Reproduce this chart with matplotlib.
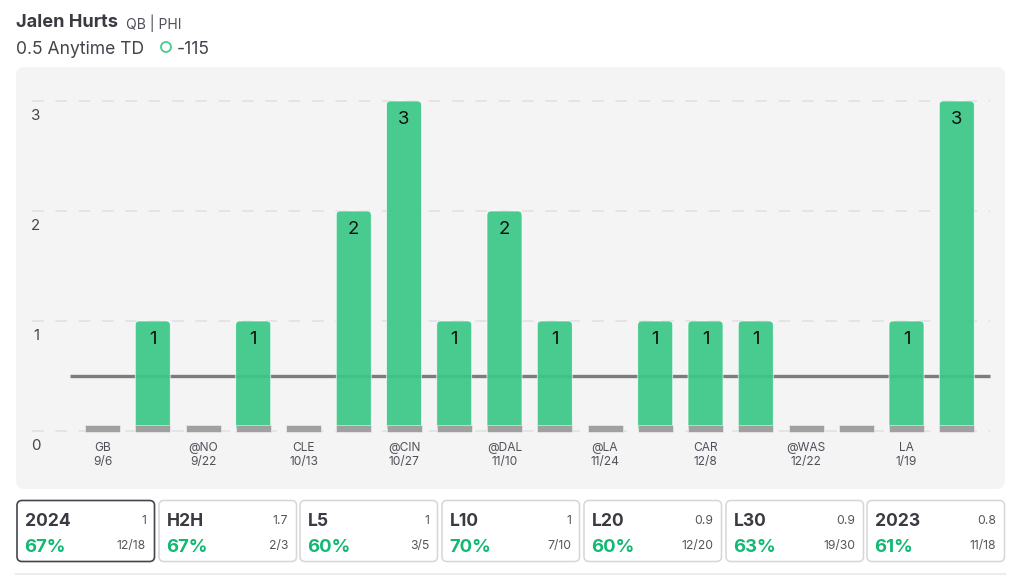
import matplotlib
matplotlib.use('Agg')
import matplotlib.pyplot as plt
from matplotlib.patches import FancyBboxPatch, Circle

plt.rcParams['font.family'] = ['Inter', 'DejaVu Sans']

games = ['GB', '', '@NO', '', 'CLE', '', '@CIN', '', '@DAL', '', '@LA', '', 'CAR', '', '@WAS', '', 'LA', '']
dates = ['9/6', '', '9/22', '', '10/13', '', '10/27', '', '11/10', '', '11/24', '', '12/8', '', '12/22', '', '1/19', '']
tds = [0, 1, 0, 1, 0, 2, 3, 1, 2, 1, 0, 1, 1, 1, 0, 0, 1, 3]
line_value = 0.5

card_names = ['2024', 'H2H', 'L5', 'L10', 'L20', 'L30', '2023']
card_avgs = ['1', '1.7', '1', '1', '0.9', '0.9', '0.8']
card_pcts = ['67%', '67%', '60%', '70%', '60%', '63%', '61%']
card_fracs = ['12/18', '2/3', '3/5', '7/10', '12/20', '19/30', '11/18']

GREEN = '#3cc887'
DARK = '#3a3a42'
W, H = 1024, 587
PX_X = 50.25  # px per bar
PX_Y = 110.0  # px per td


def px(size):
    return size * 0.72


fig = plt.figure(figsize=(W / 100, H / 100), dpi=100, facecolor='white')

# page layer in pixel coords: header, panel, cards
page = fig.add_axes([0, 0, 1, 1], zorder=0)
page.set_xlim(0, W)
page.set_ylim(H, 0)
page.axis('off')

page.add_patch(FancyBboxPatch((16, 67), 989, 422, boxstyle='round,pad=0,rounding_size=9',
                              fc='#f4f4f4', ec='none'))

page.text(16, 22.5, 'Jalen Hurts', fontsize=px(18.2), fontweight='bold', color=DARK, va='center')
page.text(126, 23, 'QB | PHI', fontsize=px(14), color='#50505a', va='center')
page.text(16, 49, '0.5 Anytime TD', fontsize=px(17.5), color='#44444c', va='center')
page.add_patch(Circle((166, 47), 5, fc='none', ec='#45cb90', lw=1.3))
page.text(177, 49, '-115', fontsize=px(17.5), color='#44444c', va='center')

card_lefts = [17, 159, 300, 442, 584, 726, 867]
for i, name in enumerate(card_names):
    left = card_lefts[i]
    right = left + 137
    selected = i == 0
    page.add_patch(FancyBboxPatch((left, 500.5), 137.5, 61, boxstyle='round,pad=0,rounding_size=5',
                                  fc='white', ec='#44444c' if selected else '#d6d6d6',
                                  lw=1.2 if selected else 1.1))
    page.text(left + 8, 521, name, fontsize=px(17.5), fontweight='bold', color=DARK, va='center')
    page.text(left + 7, 547, card_pcts[i], fontsize=px(18.5), fontweight='bold', color='#12b873', va='center')
    page.text(right - 8, 520.5, card_avgs[i], fontsize=px(12.2), color='#55555c', va='center', ha='right')
    page.text(right - 8, 546.5, card_fracs[i], fontsize=px(12.2), color='#55555c', va='center', ha='right')

page.plot([16, 1005], [574, 574], color='#ececec', lw=1.5)

# chart axes sit on top of the panel
ax = fig.add_axes([16 / W, 1 - 489 / H, 989 / W, 422 / H], zorder=1)
ax.patch.set_alpha(0)
ax.set_xlim((16 - 102.5) / PX_X, (1005 - 102.5) / PX_X)
ax.set_ylim((431 - 489) / PX_Y, (431 - 67) / PX_Y)
for s in ax.spines.values():
    s.set_visible(False)
ax.set_xticks([])
ax.set_yticks([])

xs = list(range(len(tds)))
grid_trans = ax.get_yaxis_transform()
for v in range(4):
    ax.plot([16 / 989, 974 / 989], [v, v], transform=grid_trans, color='#e4e4e4', lw=1.4,
            dashes=(6, 6), zorder=1)
    ax.annotate(str(v), (20 / 989, v), xycoords=grid_trans, xytext=(0, -15), textcoords='offset pixels',
                fontsize=px(15), color='#44444c', ha='center', va='center', zorder=5)

ax.plot([(70 - 102.5) / PX_X, (990 - 102.5) / PX_X], [line_value, line_value],
        color='#7c7c7c', lw=2.4, solid_capstyle='butt', zorder=2)

bar_w = 35 / PX_X
stub = 7.5 / PX_Y
for x, v in zip(xs, tds):
    if v > 0:
        ax.add_patch(FancyBboxPatch((x - bar_w / 2, 0), bar_w, v,
                                    boxstyle='round,pad=0,rounding_size=0.08',
                                    mutation_aspect=PX_X / PX_Y,
                                    fc=GREEN, ec='white', lw=0.5, alpha=0.93, zorder=3))
        ax.annotate(str(v), (x, v), xytext=(0, -18), textcoords='offset pixels',
                    fontsize=px(18.5), color='#111111', ha='center', va='center', zorder=5)
    ax.bar(x, stub, width=bar_w, bottom=-0.012, color='#a0a0a0', edgecolor='#f4f4f4', linewidth=0.4, zorder=4)
    if games[x]:
        ax.annotate(games[x] + '\n' + dates[x], (x, 0), xytext=(0, -24), textcoords='offset pixels',
                    fontsize=px(12), color='#50505a', ha='center', va='center', linespacing=1.25, zorder=5)

fig.savefig('out.png', dpi=100)
